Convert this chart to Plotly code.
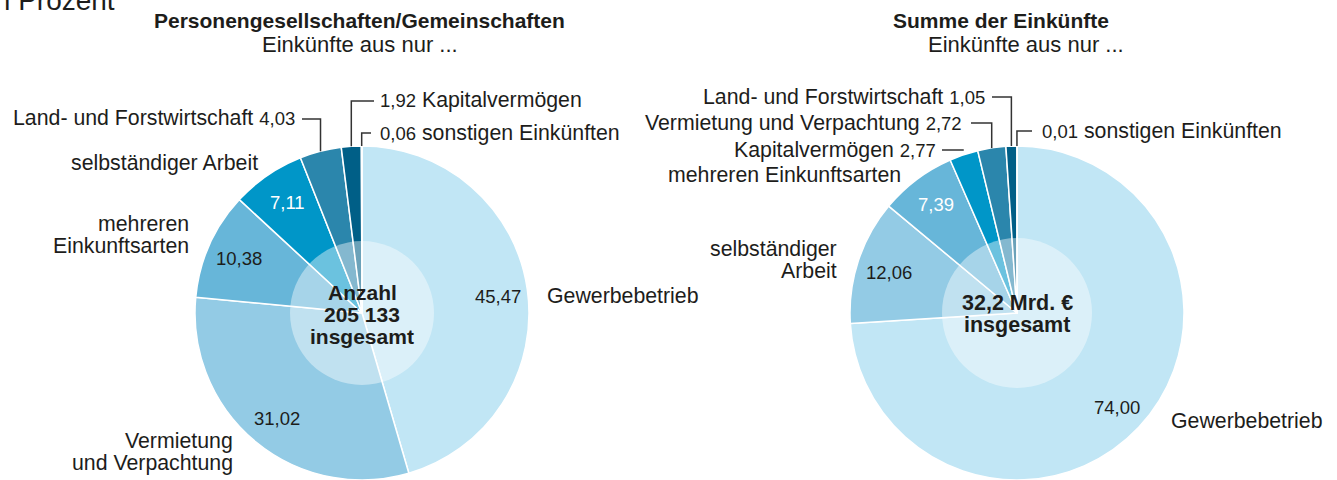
import math
import plotly.graph_objects as go

# ---------------- data ----------------
left_labels = ["Gewerbebetrieb", "Vermietung und Verpachtung", "mehreren Einkunftsarten",
               "selbständiger Arbeit", "Land- und Forstwirtschaft", "Kapitalvermögen",
               "sonstigen Einkünften"]
left_values = [45.47, 31.02, 10.38, 7.11, 4.03, 1.92, 0.06]

right_labels = ["Gewerbebetrieb", "selbständiger Arbeit", "mehreren Einkunftsarten",
                "Kapitalvermögen", "Vermietung und Verpachtung", "Land- und Forstwirtschaft",
                "sonstigen Einkünften"]
right_values = [74.00, 12.06, 7.39, 2.77, 2.72, 1.05, 0.01]

left_title = "Personengesellschaften/Gemeinschaften"
right_title = "Summe der Einkünfte"
subtitle = "Einkünfte aus nur ..."
left_center = ["Anzahl", "205 133", "insgesamt"]
right_center = ["32,2 Mrd. €", "insgesamt"]
unit_text = "In Prozent"

# ---------------- styling / layout ----------------
W, H = 1337, 480
FONT = "Liberation Sans, Arial, sans-serif"
TXT = "#1d1d1b"
COLORS = ["#c1e6f5", "#93cbe5", "#67b6d9", "#0096c8", "#2b86ac", "#005f87", "#00405e"]
R = 167
LC = (362, 313)
RC = (1017, 313)
LAB = 21.3
NUM = 18.5


def fx(x):
    return x / W


def fy(y):
    return 1 - y / H


def num(v):
    return f"{v:.2f}".replace(".", ",")


def small(v):
    return f"<span style='font-size:{NUM}px'>{num(v)}</span>"


def edge_point(center, values, i):
    total = sum(values)
    before = sum(values[:i])
    a = 2 * math.pi * (before + values[i] / 2) / total
    return center[0] + R * math.sin(a), center[1] - R * math.cos(a)


fig = go.Figure()
for center, vals, labs in ((LC, left_values, left_labels), (RC, right_values, right_labels)):
    fig.add_trace(go.Pie(
        values=vals, labels=labs, sort=False, direction="clockwise", rotation=0,
        marker=dict(colors=COLORS, line=dict(color="white", width=1.5)),
        textinfo="none", hoverinfo="skip", showlegend=False,
        domain=dict(x=[fx(center[0] - R), fx(center[0] + R)],
                    y=[1 - (center[1] + R) / H, 1 - (center[1] - R) / H]),
    ))

shapes = []
# inner translucent circles
for center, r in ((LC, 72), (RC, 75)):
    shapes.append(dict(type="circle", xref="paper", yref="paper",
                       x0=fx(center[0] - r), x1=fx(center[0] + r),
                       y0=fy(center[1] + r), y1=fy(center[1] - r),
                       fillcolor="rgba(255,255,255,0.42)", line=dict(width=0), layer="above"))


def leader(center, values, i, x_start, y_lab, elbow=True):
    ex, ey = edge_point(center, values, i)
    if elbow:
        path = f"M {fx(x_start)},{fy(y_lab)} L {fx(ex)},{fy(y_lab)} L {fx(ex)},{fy(ey)}"
    else:
        path = f"M {fx(x_start)},{fy(y_lab)} L {fx(ex)},{fy(y_lab)}"
    shapes.append(dict(type="path", xref="paper", yref="paper", path=path,
                       line=dict(color="#333333", width=1.5), layer="above"))


annotations = []


def ann(text, x, y, size=LAB, xanchor="center", color=TXT, align="left"):
    annotations.append(dict(text=text, x=fx(x), y=fy(y), xref="paper", yref="paper",
                            xanchor=xanchor, yanchor="middle", align=align, showarrow=False,
                            font=dict(size=size, color=color, family=FONT)))


def ann_lines(lines, x, y0, step=22, **kw):
    for k, t in enumerate(lines):
        ann(t, x, y0 + step * k, **kw)


# titles
ann("<b>" + left_title + "</b>", 359, 21, size=21)
ann(subtitle, 360, 44, size=22)
ann("<b>" + right_title + "</b>", 1001, 21, size=21)
ann(subtitle, 1026, 44, size=22)
ann(unit_text, 117, 0, size=28, xanchor="right")

# center texts
ann_lines(["<b>" + t + "</b>" for t in left_center], LC[0], 292, size=21)
ann_lines(["<b>" + t + "</b>" for t in right_center], RC[0], 303, size=21.5)

# ---- left pie labels ----
lv = left_values
ann(num(lv[0]), 498, 296, size=NUM)
ann(left_labels[0], 545, 296, xanchor="left")
ann(num(lv[1]), 277, 418, size=NUM)
ann_lines(["Vermietung", "und Verpachtung"], 235, 441, xanchor="right")
ann(num(lv[2]), 239, 258, size=NUM)
ann_lines(["mehreren", "Einkunftsarten"], 191, 224, xanchor="right")
ann(num(lv[3]), 287, 202, size=NUM, color="white")
ann(left_labels[3], 260, 163, xanchor="right")
ann(left_labels[4] + " " + small(lv[4]), 297, 118, xanchor="right")
leader(LC, lv, 4, 302, 119)
ann(small(lv[5]) + " " + left_labels[5], 378, 100, xanchor="left")
leader(LC, lv, 5, 374, 101)
ann(small(lv[6]) + " " + left_labels[6], 378, 133, xanchor="left")
leader(LC, lv, 6, 371, 133)

# ---- right pie labels ----
rv = right_values
ann(num(rv[0]), 1117, 407, size=NUM)
ann(right_labels[0], 1169, 421, xanchor="left")
ann(num(rv[1]), 889, 272, size=NUM)
ann_lines(["selbständiger", "Arbeit"], 839, 249, xanchor="right")
ann(num(rv[2]), 936, 205, size=NUM, color="white")
ann(right_labels[2], 903, 175, xanchor="right")
ann(right_labels[3] + " " + small(rv[3]), 938, 150, xanchor="right")
leader(RC, rv, 3, 942, 150, elbow=False)
ann(right_labels[4] + " " + small(rv[4]), 964, 123, xanchor="right")
leader(RC, rv, 4, 971, 123)
ann(right_labels[5] + " " + small(rv[5]), 987, 97, xanchor="right")
leader(RC, rv, 5, 992, 97)
ann(small(rv[6]) + " " + right_labels[6], 1040, 131, xanchor="left")
leader(RC, rv, 6, 1032, 131)

fig.update_layout(
    width=W, height=H,
    margin=dict(l=0, r=0, t=0, b=0),
    paper_bgcolor="white", plot_bgcolor="white",
    shapes=shapes, annotations=annotations,
    font=dict(family=FONT, color=TXT),
)

fig.write_html("out.html")
